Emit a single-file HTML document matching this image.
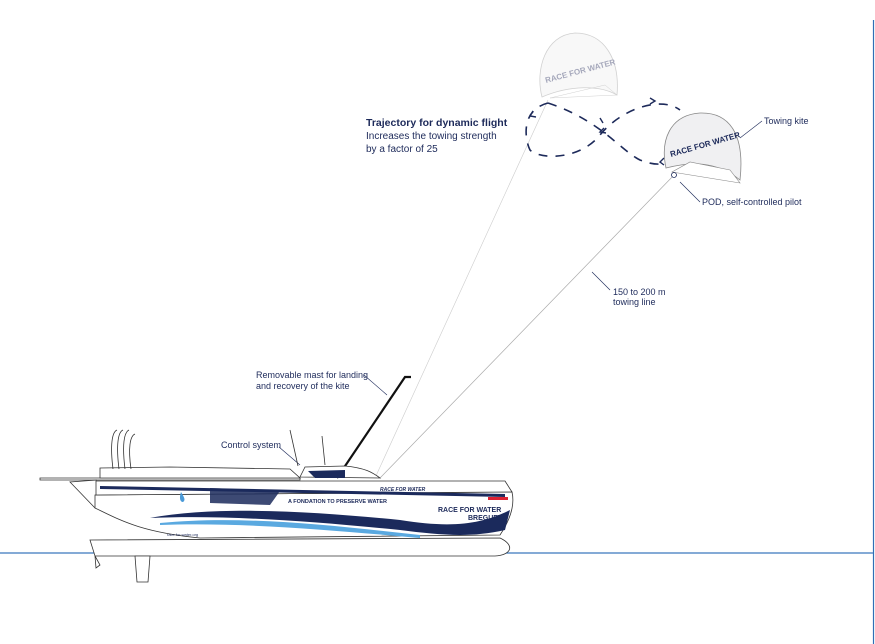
<!DOCTYPE html>
<html><head><meta charset="utf-8"><style>
html,body{margin:0;padding:0;background:#fff;}
svg{display:block;font-family:"Liberation Sans",sans-serif;}
</style></head><body>
<svg width="875" height="644" viewBox="0 0 875 644" xmlns="http://www.w3.org/2000/svg">
<rect width="875" height="644" fill="#fff"/>
<line x1="873.5" y1="20" x2="873.5" y2="644" stroke="#2f6fb5" stroke-width="1.2"/>
<line x1="0" y1="553" x2="873" y2="553" stroke="#3a78bd" stroke-width="1.2"/>

<line x1="375" y1="478" x2="548" y2="100" stroke="#ccc" stroke-width="0.6"/>
<line x1="380" y1="478" x2="676" y2="173" stroke="#aaa" stroke-width="0.7"/>

<g fill="none" stroke="#1d2a5a" stroke-width="1.6" stroke-dasharray="9,8">
<path d="M548,103 C600,120 620,150 640,160 C655,166 665,165 675,160"/>
<path d="M548,103 C520,110 525,140 530,150 C540,160 580,160 600,135 C620,110 660,95 680,110"/>
</g>
<g fill="none" stroke="#1d2a5a" stroke-width="1.4">
<path d="M533,111 l-3,5 l6,1"/><path d="M650,98 l5,3 l-5,3"/><path d="M604,128 l-4,4 l6,1"/><path d="M600,118 l3,5"/><path d="M664,158 l-4,4 l4,3"/>
</g>

<g opacity="0.45">
<path d="M542,97 C535,70 545,35 575,33 C605,33 620,60 617,95 C600,85 570,85 542,97Z" fill="#f0f0f0" stroke="#999" stroke-width="0.8"/>
<path d="M550,98 L617,95 L605,85 Z" fill="none" stroke="#999" stroke-width="0.5"/>
<text x="546" y="83" font-size="8" font-weight="bold" fill="#3a3f6a" transform="rotate(-15 546 83)">RACE FOR WATER</text>
</g>
<path d="M666,168 C660,140 670,115 700,113 C730,112 745,135 740,180 C715,160 690,162 666,168Z" fill="#f0f0f2" stroke="#888" stroke-width="0.8"/>
<path d="M672,172 L740,183 L730,170 L690,162Z" fill="#fff" stroke="#888" stroke-width="0.6"/>
<text x="671" y="157" font-size="8" font-weight="bold" fill="#1d2a5a" transform="rotate(-16 671 157)">RACE FOR WATER</text>
<circle cx="674" cy="175" r="2.5" fill="#fff" stroke="#1d2a5a" stroke-width="0.8"/>

<g fill="#1d2a5a" font-size="9">
<text x="366" y="126" font-size="10.5" font-weight="bold">Trajectory for dynamic flight</text>
<text x="366" y="139" font-size="10">Increases the towing strength</text>
<text x="366" y="152" font-size="10">by a factor of 25</text>
<text x="764" y="124">Towing kite</text>
<text x="702" y="205">POD, self-controlled pilot</text>
<text x="613" y="295">150 to 200 m</text>
<text x="613" y="305">towing line</text>
<text x="256" y="378">Removable mast for landing</text>
<text x="256" y="389">and recovery of the kite</text>
<text x="221" y="448">Control system</text>
</g>
<g stroke="#1d2a5a" stroke-width="0.6">
<line x1="762" y1="121" x2="740" y2="138"/>
<line x1="700" y1="202" x2="680" y2="182"/>
<line x1="610" y1="290" x2="592" y2="272"/>
<line x1="364" y1="375" x2="387" y2="395"/>
<line x1="279" y1="447" x2="300" y2="465"/>
</g>

<polyline points="337,478 405,377 411,377" fill="none" stroke="#111" stroke-width="2.2"/>

<g stroke="#333" stroke-width="0.8" fill="#fff">
<path d="M90,540 L500,538 C515,545 512,555 495,556 L95,556 Z"/>
<path d="M135,556 L150,556 L148,582 L137,582Z"/>
<path d="M95,556 L100,565 L96,568Z"/>
<path d="M95,508 C120,520 140,532 200,538 L500,535 C510,520 515,505 512,492 L95,495Z"/>
<path d="M96,481 L505,481 L512,492 L96,495Z"/>
<path d="M40,480 L300,480 L300,478 L40,478Z"/>
<path d="M97,480 L70,482 L95,508" fill="none"/>
<path d="M100,478 L100,468 L170,467 L290,469 L300,478Z"/>
<path d="M300,477 L305,467 L345,466 C365,468 372,472 380,478Z"/>
<g fill="none"><path d="M113,469 C110,445 112,432 117,430"/><path d="M119,469 C116,445 118,432 123,430"/><path d="M125,469 C122,445 124,432 129,430"/><path d="M131,469 C128,448 130,436 135,434"/>
<line x1="298" y1="466" x2="290" y2="430"/><line x1="325" y1="465" x2="322" y2="436"/></g>
</g>
<path d="M150,518 C220,505 320,512 400,520 C450,528 480,525 510,510 L505,530 C470,538 440,535 400,530 C300,520 220,515 150,518Z" fill="#1b2a5c"/>
<path d="M160,523 C240,515 330,525 420,535 L420,538 C330,530 240,522 160,525Z" fill="#5aa9e0"/>
<path d="M100,486 L505,494 L505,497 L100,489Z" fill="#1b2a5c"/>
<path d="M210,488 L280,491 L270,505 L210,503Z" fill="#1b2a5c" opacity="0.85"/>
<path d="M308,471 L345,470 L345,478 L315,478Z" fill="#1b2a5c"/>
<rect x="488" y="497" width="20" height="3" fill="#d23"/>
<path d="M181,492 C184,497 186,500 183,502 C180,502 179,498 181,492Z" fill="#4a9ad8"/>
<g fill="#1d2a5a">
<text x="288" y="503" font-size="5.5" font-weight="bold">A FONDATION TO PRESERVE WATER</text>
<text x="438" y="512" font-size="7" font-weight="bold">RACE FOR WATER</text>
<text x="468" y="520" font-size="7" font-weight="bold">BREGUET</text>
<text x="380" y="491" font-size="5" font-style="italic" font-weight="bold">RACE FOR WATER</text>
<text x="167" y="536" font-size="4">race for water.org</text>
</g>
</svg>
</body></html>
